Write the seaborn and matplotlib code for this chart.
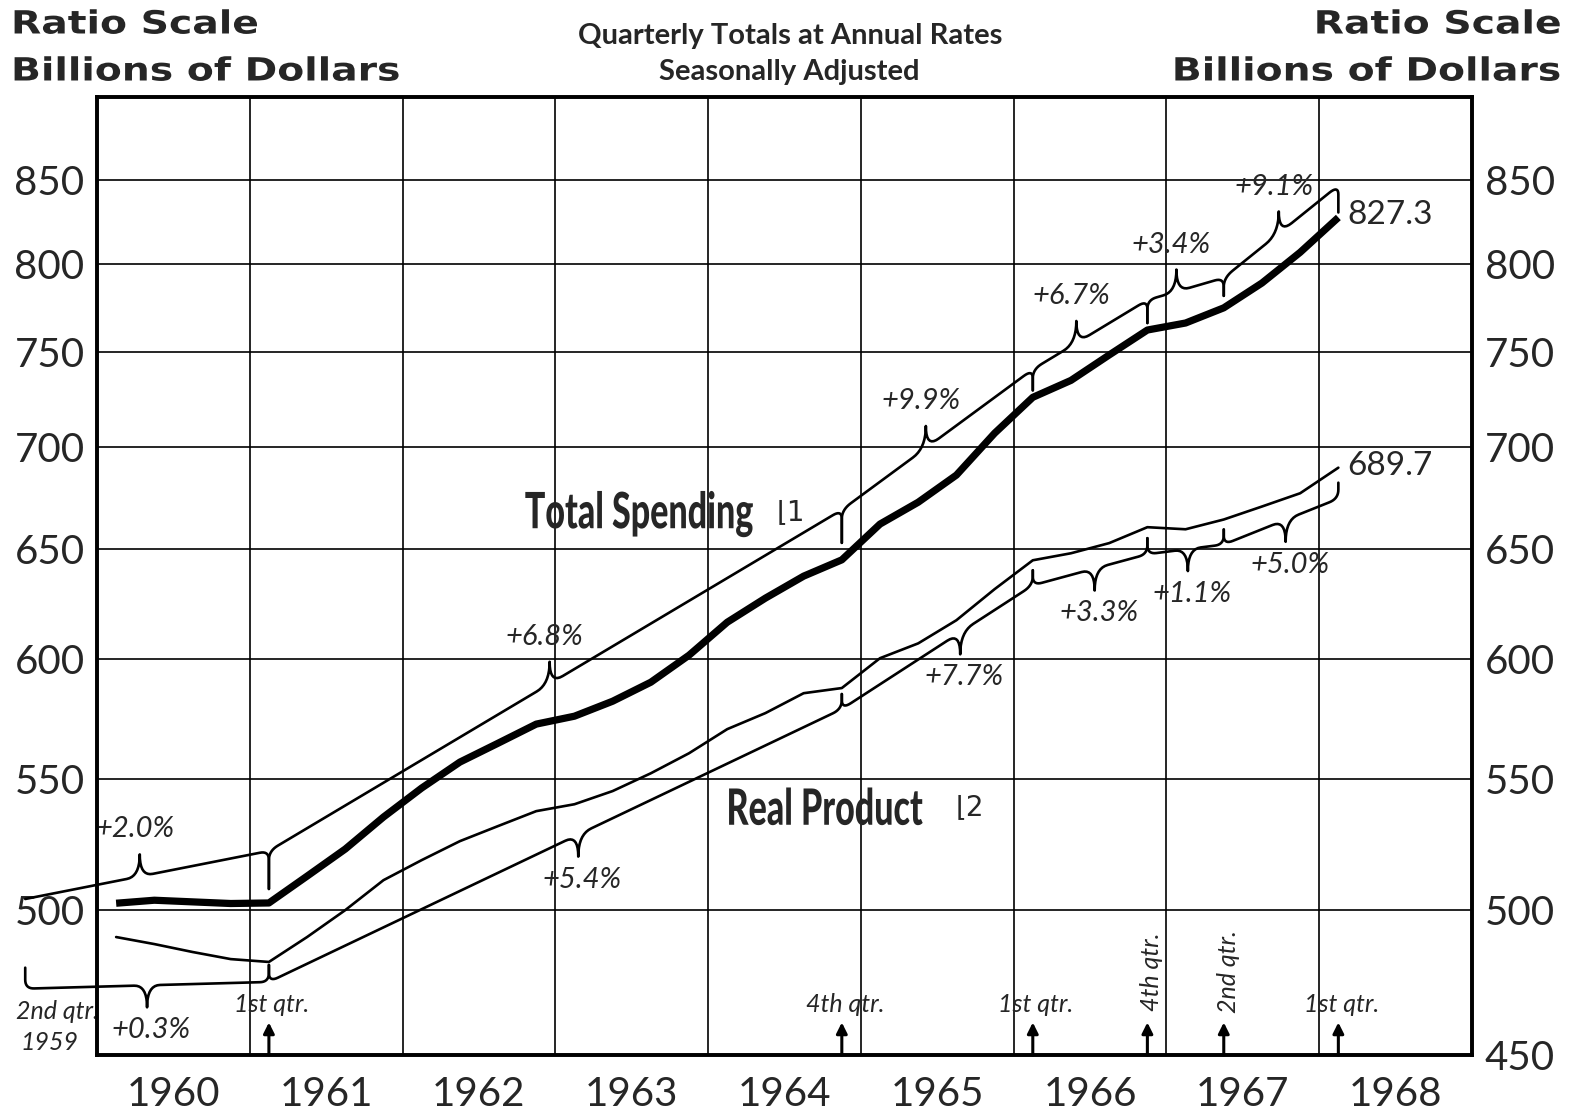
import numpy as np
import pandas as pd
import matplotlib
matplotlib.use("Agg")
import matplotlib.pyplot as plt
import seaborn as sns
from matplotlib.ticker import FixedLocator, NullLocator, NullFormatter
from matplotlib.patheffects import AbstractPathEffect
from matplotlib.transforms import Affine2D

# quarterly totals at annual rates, billions of dollars, 1960 Q1 .. 1968 Q1
quarters = [f"{y}Q{q}" for y in range(1960, 1968) for q in range(1, 5)] + ["1968Q1"]
total_spending = [502.5, 503.6, 503.0, 502.4,
                  502.6, 512.5, 522.7, 535.0,
                  546.4, 556.8, 564.5, 572.4,
                  575.7, 582.0, 590.1, 601.8,
                  616.4, 627.3, 637.4, 645.0,
                  662.0, 672.6, 686.0, 707.2,
                  725.9, 734.9, 748.6, 762.3,
                  766.2, 774.7, 788.8, 806.6,
                  827.3]
real_product = [490.3, 487.8, 485.0, 482.5,
                481.5, 490.3, 500.0, 511.0,
                518.5, 525.7, 531.5, 537.3,
                540.0, 545.2, 552.3, 560.4,
                570.3, 577.0, 585.4, 587.6,
                600.5, 607.0, 617.3, 631.4,
                644.8, 648.1, 652.9, 660.5,
                659.5, 664.2, 670.5, 677.0,
                689.7]

# turning points used for the growth-rate brackets
turn_quarters = ["1959Q2", "1961Q1", "1964Q4", "1966Q1", "1966Q4", "1967Q2", "1968Q1"]
total_1959q2 = 485.0
real_1959q2 = 479.5
total_rates = ["+2.0%", "+6.8%", "+9.9%", "+6.7%", "+3.4%", "+9.1%"]
real_rates = ["+0.3%", "+5.4%", "+7.7%", "+3.3%", "+1.1%", "+5.0%"]

# quarter markers along the bottom
marker_quarters = ["1961Q1", "1964Q4", "1966Q1", "1966Q4", "1967Q2", "1968Q1"]
marker_labels = ["1st qtr.", "4th qtr.", "1st qtr.", "4th qtr.", "2nd qtr.", "1st qtr."]
marker_vertical = [False, False, False, True, True, False]

y_ticks = [450, 500, 550, 600, 650, 700, 750, 800, 850]
years = list(range(1960, 1969))


def qx(label):
    if label == "1959Q2":
        return 1959.53  # the chart squeezes this quarter in just left of the frame
    return int(label[:4]) + 0.25 * int(label[-1]) - 0.125


class Stretch(AbstractPathEffect):
    """draw text scaled about its baseline start point"""
    def __init__(self, sx=1.0, sy=1.0):
        super().__init__()
        self.sx, self.sy = sx, sy

    def draw_path(self, renderer, gc, tpath, affine, rgbFace=None):
        renderer.draw_path(gc, tpath, Affine2D().scale(self.sx, self.sy) + affine, rgbFace)


dates = [qx(q) for q in quarters]
df = pd.DataFrame({"date": dates, "total": total_spending, "real": real_product})
lookup_total = dict(zip(quarters, total_spending))
lookup_real = dict(zip(quarters, real_product))
lookup_total["1959Q2"] = total_1959q2
lookup_real["1959Q2"] = real_1959q2

sns.set_theme(style="white")
plt.rcParams["font.family"] = ["Lato", "DejaVu Sans"]

fig = plt.figure(figsize=(15.7, 11.13), dpi=100)
ax = fig.add_axes([0.0618, 0.0521, 0.8758, 0.8607])

sns.lineplot(data=df, x="date", y="total", ax=ax, color="black", lw=5.2,
             solid_capstyle="butt", legend=False)
sns.lineplot(data=df, x="date", y="real", ax=ax, color="black", lw=1.9, legend=False)

ax.set_yscale("log")
ax.set_xlim(1960, 1969)
ax.set_ylim(450, 903)
ax.set_xlabel("")
ax.set_ylabel("")

# year boundaries as grid, year names centred in between
ax.xaxis.set_major_locator(FixedLocator(years[1:]))
ax.xaxis.set_major_formatter(NullFormatter())
ax.xaxis.set_minor_locator(FixedLocator([y + 0.5 for y in years]))
ax.set_xticklabels([str(y) for y in years], minor=True)
ax.tick_params(axis="x", which="both", length=0)
ax.tick_params(axis="x", which="minor", labelsize=29, pad=15)

ax.yaxis.set_major_locator(FixedLocator(y_ticks))
ax.yaxis.set_minor_locator(NullLocator())
ax.set_yticklabels(["" if v == 450 else str(v) for v in y_ticks])
ax.tick_params(axis="y", length=0, labelsize=29, pad=9)

ax2 = ax.twinx()
ax2.set_yscale("log")
ax2.set_ylim(450, 903)
ax2.yaxis.set_major_locator(FixedLocator(y_ticks))
ax2.yaxis.set_minor_locator(NullLocator())
ax2.set_yticklabels([str(v) for v in y_ticks])
ax2.tick_params(axis="y", length=0, labelsize=29, pad=9)
ax2.grid(False)

ax.grid(True, which="major", color="black", lw=1.2)
for a in (ax, ax2):
    for s in a.spines.values():
        s.set_color("black")
        s.set_linewidth(2.6)


def bezier(p0, c, p1, n=10):
    t = np.linspace(0, 1, n)[:, None]
    return (1 - t) ** 2 * p0 + 2 * (1 - t) * t * c + t ** 2 * p1


def brace(xa, va, xb, vb, offa, offb, gapa, gapb, side, frac, h=22, w=13, r=9):
    T = ax.transData
    da = T.transform((xa, va))
    db = T.transform((xb, vb))
    a = da + np.array([0, side * offa])
    b = db + np.array([0, side * offb])
    slope = (b[1] - a[1]) / (b[0] - a[0])

    def on_line(x):
        return np.array([x, a[1] + slope * (x - a[0])])

    pts = []
    if gapa is None:
        pts.append(a)
    else:
        pts.append([a[0], da[1] + side * gapa])
        pts.extend(bezier(np.array([a[0], a[1] - side * r]), a, on_line(a[0] + r)))
    mx = a[0] + frac * (b[0] - a[0])
    c = on_line(mx)
    tip = c + np.array([0, side * h])
    pts.append(on_line(mx - w))
    pts.extend(bezier(on_line(mx - w), c, tip)[1:])
    pts.extend(bezier(tip, c, on_line(mx + w))[1:])
    pts.extend(bezier(on_line(b[0] - r), b, np.array([b[0], b[1] - side * r])))
    pts.append([b[0], db[1] + side * gapb])
    xy = T.inverted().transform(np.array(pts, dtype=float))
    ax.plot(xy[:, 0], xy[:, 1], color="black", lw=1.9, clip_on=False,
            solid_joinstyle="round", zorder=3)
    return T.inverted().transform(tip)


# bracket layout (pixels): distance from the curve, gap at the tick, tip position
up_off = [53, 52, 50, 28, 30, 30, 32]
up_gap = [None, 14, 17, 7, 7, 12, 5]
up_frac = [0.47, 0.49, 0.44, 0.38, 0.38, 0.48]
lo_off = [21, 20, 21, 25, 27, 25, 31]
lo_gap = [0, 3, 6, 10, 11, 10, 15]
lo_frac = [0.5, 0.54, 0.62, 0.54, 0.53, 0.54]

pct_font = dict(fontsize=21, style="italic", ha="center", va="center")
for i in range(len(turn_quarters) - 1):
    q0, q1 = turn_quarters[i], turn_quarters[i + 1]
    tip = brace(qx(q0), lookup_total[q0], qx(q1), lookup_total[q1],
                up_off[i], up_off[i + 1], up_gap[i], up_gap[i + 1], 1, up_frac[i])
    ax.annotate(total_rates[i], xy=tip, xytext=(-5, 25), textcoords="offset pixels",
                annotation_clip=False, **pct_font)
    tip = brace(qx(q0), lookup_real[q0], qx(q1), lookup_real[q1],
                lo_off[i], lo_off[i + 1], lo_gap[i], lo_gap[i + 1], -1, lo_frac[i])
    ax.annotate(real_rates[i], xy=tip, xytext=(4, -23), textcoords="offset pixels",
                annotation_clip=False, **pct_font)

# end values
for series in (total_spending, real_product):
    ax.annotate(f"{series[-1]:.1f}", xy=(dates[-1], series[-1]), xytext=(9, 2),
                textcoords="offset pixels", ha="left", va="center", fontsize=24)

# series names, in a tall condensed face like the original lettering
name_font = dict(weight="black", fontsize=24.5, ha="left", va="baseline",
                 path_effects=[Stretch(1.0, 1.47)])
ax.text(1962.80, 660, "Total Spending", **name_font)
ax.text(1964.12, 532, "Real Product", **name_font)
ax.text(1964.45, 668, "⌊1", family="DejaVu Sans", fontsize=20, ha="left", va="center")
ax.text(1965.62, 539, "⌊2", family="DejaVu Sans", fontsize=20, ha="left", va="center")

# quarter markers
for q, lab, vert in zip(marker_quarters, marker_labels, marker_vertical):
    x = qx(q)
    ax.annotate("", xy=(x, 0.034), xycoords=("data", "axes fraction"),
                xytext=(x, 0.0), textcoords=("data", "axes fraction"),
                arrowprops=dict(arrowstyle="-|>", color="black", lw=2.2,
                                mutation_scale=16, shrinkA=0, shrinkB=0))
    if vert:
        ax.text(x + 0.03, 0.087, lab, transform=ax.get_xaxis_transform(), rotation=90,
                fontsize=18, style="italic", ha="center", va="center")
    else:
        ax.text(x + 0.02, 0.053, lab, transform=ax.get_xaxis_transform(),
                fontsize=18, style="italic", ha="center", va="center")

ax.text(1959.74, 0.045, "2nd qtr.", transform=ax.get_xaxis_transform(),
        fontsize=18, style="italic", ha="center", va="center")
ax.text(1959.69, 0.013, "1959", transform=ax.get_xaxis_transform(),
        fontsize=18, style="italic", ha="center", va="center")

# headings: the original is widely letter-spaced, so stretch the lettering
head_sx = 1.23
head = dict(family="DejaVu Sans", weight="bold", fontsize=23, va="center", ha="left",
            path_effects=[Stretch(head_sx)])
renderer = fig.canvas.get_renderer()
for txt, py in (("Ratio Scale", 25), ("Billions of Dollars", 72)):
    fig.text(0.007, 1 - py / 1113, txt, **head)
    t = fig.text(0, 1 - py / 1113, txt, **head)
    w = t.get_window_extent(renderer).width * head_sx
    t.set_x((1562 - w) / 1570)

fig.text(0.503, 1 - 36 / 1113, "Quarterly Totals at Annual Rates", ha="center",
         va="center", fontsize=21, weight="bold")
fig.text(0.503, 1 - 72 / 1113, "Seasonally Adjusted", ha="center",
         va="center", fontsize=21, weight="bold")

fig.savefig("out.png", dpi=100, facecolor="white")
